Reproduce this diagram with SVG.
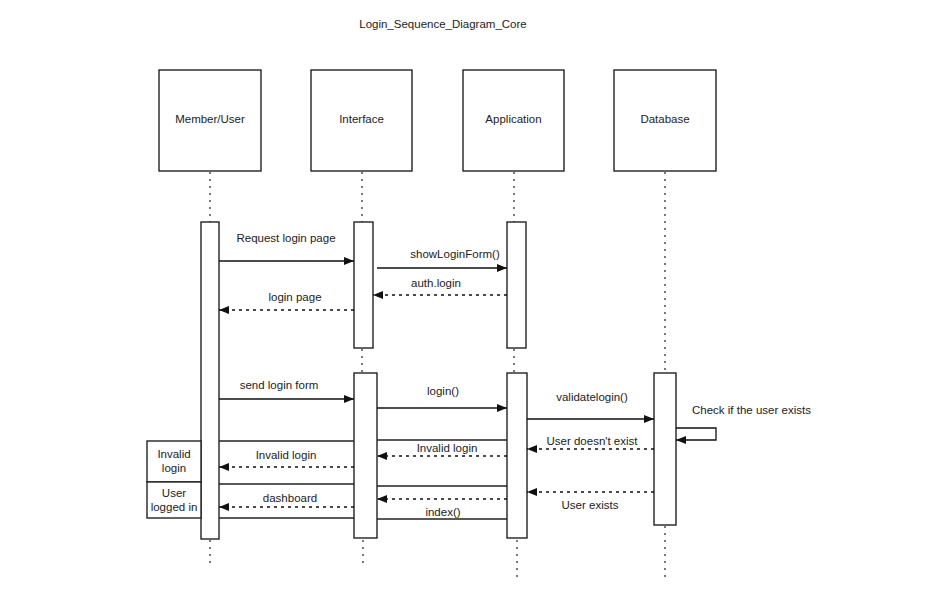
<svg xmlns="http://www.w3.org/2000/svg" width="935" height="595" viewBox="0 0 935 595">
  <style>
    text { font-family: "Liberation Sans", Arial, sans-serif; font-size: 11.5px; fill: #222; }
    .mid { text-anchor: middle; }
    .box { fill: #fff; stroke: #222; stroke-width: 1.4; }
    .act { fill: #fff; stroke: #222; stroke-width: 1.4; }
    .life { stroke: #333; stroke-width: 1.3; stroke-dasharray: 2 5; fill: none; }
    .msg { stroke: #111; stroke-width: 1.3; fill: none; marker-end: url(#solidHead); }
    .ret { stroke: #111; stroke-width: 1.3; fill: none; stroke-dasharray: 3 4; marker-end: url(#solidHead); }
    .rule { stroke: #222; stroke-width: 1.3; fill: none; }
  </style>
  <defs>
    <marker id="solidHead" viewBox="0 0 10 8" refX="10" refY="4" markerWidth="10" markerHeight="8" markerUnits="userSpaceOnUse" orient="auto">
      <path d="M0,0 L10,4 L0,8 Z" fill="#111"/>
    </marker>
  </defs>

  <rect width="935" height="595" fill="#fff"/>

  <text x="443" y="28" class="mid">Login_Sequence_Diagram_Core</text>

  <!-- lifelines -->
  <g id="lifelines">
    <line class="life" x1="210" y1="172" x2="210" y2="222"/>
    <line class="life" x1="210" y1="540" x2="210" y2="565"/>
    <line class="life" x1="362" y1="172" x2="362" y2="222"/>
    <line class="life" x1="362" y1="349" x2="362" y2="373"/>
    <line class="life" x1="363" y1="540" x2="363" y2="565"/>
    <line class="life" x1="514" y1="172" x2="514" y2="222"/>
    <line class="life" x1="514" y1="349" x2="514" y2="373"/>
    <line class="life" x1="517" y1="540" x2="517" y2="577"/>
    <line class="life" x1="665" y1="172" x2="665" y2="373"/>
    <line class="life" x1="665" y1="526" x2="665" y2="577"/>
  </g>

  <g id="member-user">
    <rect class="box" x="159" y="70" width="102" height="101"/>
    <text x="210" y="123" class="mid">Member/User</text>
    <rect class="act" x="201" y="222" width="18" height="317"/>
  </g>

  <g id="interface">
    <rect class="box" x="311" y="70" width="101" height="101"/>
    <text x="361.5" y="123" class="mid">Interface</text>
    <rect class="act" x="354" y="222" width="19" height="126"/>
    <rect class="act" x="354" y="373" width="23" height="165"/>
  </g>

  <g id="application">
    <rect class="box" x="463" y="70" width="101" height="101"/>
    <text x="513.5" y="123" class="mid">Application</text>
    <rect class="act" x="507" y="222" width="19" height="126"/>
    <rect class="act" x="507" y="373" width="20" height="165"/>
  </g>

  <g id="database">
    <rect class="box" x="614" y="70" width="102" height="101"/>
    <text x="665" y="123" class="mid">Database</text>
    <rect class="act" x="654" y="373" width="22" height="152"/>
  </g>

  <g id="invalid-login-note">
    <rect class="box" x="147" y="441" width="54" height="41"/>
    <text x="174" y="458" class="mid">Invalid</text>
    <text x="174" y="472" class="mid">login</text>
  </g>

  <g id="user-logged-in-note">
    <rect class="box" x="147" y="482" width="54" height="36"/>
    <text x="174" y="497" class="mid">User</text>
    <text x="174" y="511" class="mid">logged in</text>
  </g>

  <g id="connectors">
    <!-- first exchange -->
    <line class="msg" x1="219" y1="261" x2="354" y2="261"/>
    <text x="286" y="242" class="mid">Request login page</text>

    <line class="msg" x1="377" y1="268" x2="507" y2="268"/>
    <text x="455" y="258" class="mid">showLoginForm()</text>

    <line class="ret" x1="507" y1="295" x2="373" y2="295"/>
    <text x="436" y="287" class="mid">auth.login</text>

    <line class="ret" x1="354" y1="310" x2="219" y2="310"/>
    <text x="295" y="301" class="mid">login page</text>

    <!-- second exchange -->
    <line class="msg" x1="219" y1="399" x2="354" y2="399"/>
    <text x="279" y="389" class="mid">send login form</text>

    <line class="msg" x1="377" y1="408" x2="507" y2="408"/>
    <text x="443" y="395" class="mid">login()</text>

    <line class="msg" x1="527" y1="419" x2="654" y2="419"/>
    <text x="592" y="401" class="mid">validatelogin()</text>

    <path class="msg" d="M676,428 H716 V440 H676"/>
    <text x="692" y="414">Check if the user exists</text>

    <line class="ret" x1="654" y1="449" x2="527" y2="449"/>
    <text x="592" y="445" class="mid">User doesn't exist</text>

    <line class="ret" x1="654" y1="492" x2="527" y2="492"/>
    <text x="590" y="509" class="mid">User exists</text>

    <!-- invalid login branch -->
    <line class="rule" x1="219" y1="441" x2="354" y2="441"/>
    <line class="rule" x1="377" y1="440" x2="507" y2="440"/>
    <line class="ret" x1="507" y1="456" x2="377" y2="456"/>
    <text x="447" y="452" class="mid">Invalid login</text>
    <line class="ret" x1="354" y1="467" x2="219" y2="467"/>
    <text x="286" y="459" class="mid">Invalid login</text>

    <!-- logged in branch -->
    <line class="rule" x1="219" y1="484" x2="354" y2="484"/>
    <line class="rule" x1="377" y1="486" x2="507" y2="486"/>
    <line class="ret" x1="507" y1="499" x2="377" y2="499"/>
    <line class="ret" x1="354" y1="507" x2="219" y2="507"/>
    <text x="290" y="502" class="mid">dashboard</text>
    <line class="rule" x1="219" y1="518" x2="354" y2="518"/>
    <line class="rule" x1="377" y1="519" x2="507" y2="519"/>
    <text x="443" y="516" class="mid">index()</text>
  </g>
</svg>
